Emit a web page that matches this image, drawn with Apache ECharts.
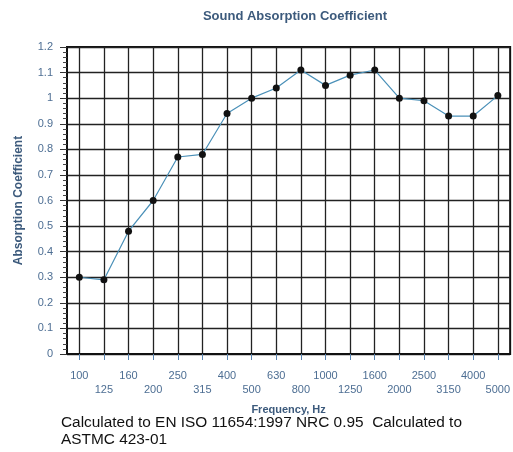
<!DOCTYPE html>
<html>
<head>
<meta charset="utf-8">
<script src="https://cdn.jsdelivr.net/npm/echarts@6/dist/echarts.min.js"></script>
<style>html,body{margin:0;padding:0;background:#fff;}#c{width:513px;height:452px;}</style>
</head>
<body>
<div id="c"></div>
<script>
const categories = ['100','125','160','200','250','315','400','500','630','800','1000','1250','1600','2000','2500','3150','4000','5000'];
const absorption = [0.30,0.29,0.48,0.60,0.77,0.78,0.94,1.00,1.04,1.11,1.05,1.09,1.11,1.00,0.99,0.93,0.93,1.01];
const titleText = 'Sound Absorption Coefficient';
const yName = 'Absorption Coefficient';
const xName = 'Frequency, Hz';
const footnote = 'Calculated to EN ISO 11654:1997 NRC 0.95  Calculated to\nASTMC 423-01';

const labelColor = '#4d6e93';
const chart = echarts.init(document.getElementById('c'), null, {renderer: 'canvas'});
chart.setOption({
  backgroundColor: '#fff',
  animation: false,
  grid: {left: 67, right: 0, top: 47, bottom: 98, show: true, borderColor: '#111', borderWidth: 2, backgroundColor: 'transparent'},
  graphic: [
    {type: 'text', x: 295, y: 10, style: {text: titleText, fill: '#3c5a7c', font: 'bold 13px "Liberation Sans", Arial, sans-serif', textAlign: 'center', textVerticalAlign: 'top'}},
    {type: 'text', x: 61, y: 414, style: {text: footnote, fill: '#111', font: '15.4px "Liberation Sans", Arial, sans-serif', lineHeight: 17, textAlign: 'left', textVerticalAlign: 'top'}}
  ],
  xAxis: {
    type: 'category',
    data: categories,
    boundaryGap: true,
    name: xName,
    nameLocation: 'middle',
    nameGap: 50,
    nameTextStyle: {fontFamily: '"Liberation Sans", Arial', fontWeight: 'bold', fontSize: 11, color: '#3c5a7c'},
    axisLine: {lineStyle: {color: '#111', width: 2}},
    axisTick: {show: true, alignWithLabel: true, length: 6, lineStyle: {color: '#5a84b0', width: 1}},
    axisLabel: {
      interval: 0, fontFamily: '"Liberation Sans", Arial', fontSize: 11, color: labelColor, lineHeight: 14, margin: 15,
      formatter: function (v, i) { return i % 2 ? '\n' + v : v; }
    },
    splitLine: {show: true, alignWithLabel: true, lineStyle: {color: '#222', width: 1.3}}
  },
  yAxis: {
    type: 'value',
    min: 0, max: 1.2, interval: 0.1,
    name: yName,
    nameLocation: 'middle',
    nameGap: 42,
    nameTextStyle: {fontFamily: '"Liberation Sans", Arial', fontWeight: 'bold', fontSize: 12, color: '#3c5a7c'},
    axisLine: {show: true, lineStyle: {color: '#111', width: 2}},
    axisTick: {show: true, length: 7, lineStyle: {color: '#333', width: 1}},
    minorTick: {show: true, splitNumber: 5, length: 4, lineStyle: {color: '#444', width: 1}},
    axisLabel: {fontFamily: '"Liberation Sans", Arial', fontSize: 11, color: labelColor, margin: 14},
    splitLine: {show: true, lineStyle: {color: '#222', width: 1.3}}
  },
  series: [{
    type: 'line',
    data: absorption,
    symbol: 'circle',
    symbolSize: 7,
    itemStyle: {color: '#111'},
    lineStyle: {color: '#4a90b8', width: 1.2},
    z: 5
  }]
});
</script>
</body>
</html>
